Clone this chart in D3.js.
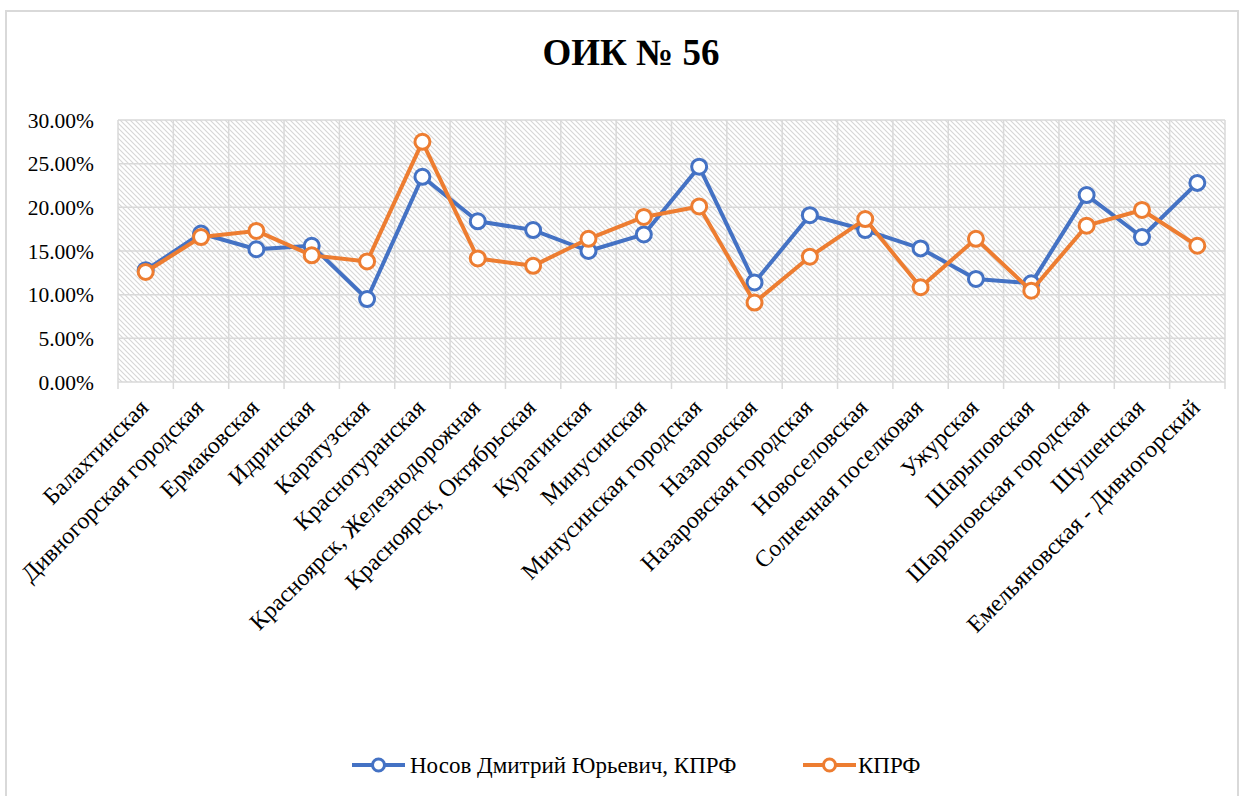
<!DOCTYPE html>
<html><head><meta charset="utf-8">
<script src="https://cdn.jsdelivr.net/npm/d3@7"></script>
<style>body{margin:0;background:#fff}svg{display:block}text{font-family:"Liberation Serif","Times New Roman",serif}</style>
</head><body>
<svg id="c" width="1240" height="796"></svg>
<script>
const categories = ["Балахтинская","Дивногорская городская","Ермаковская","Идринская","Каратузская","Краснотуранская","Красноярск, Железнодорожная","Красноярск, Октябрьская","Курагинская","Минусинская","Минусинская городская","Назаровская","Назаровская городская","Новоселовская","Солнечная поселковая","Ужурская","Шарыповская","Шарыповская городская","Шушенская","Емельяновская - Дивногорский"];
const nosov = [12.8,17.0,15.2,15.6,9.5,23.5,18.4,17.4,15.0,16.9,24.65,11.4,19.1,17.4,15.3,11.8,11.3,21.4,16.6,22.8];
const kprf = [12.6,16.6,17.3,14.5,13.8,27.5,14.15,13.3,16.4,18.9,20.1,9.1,14.35,18.66,10.85,16.4,10.45,17.9,19.7,15.6];
const yTicks = [0,5,10,15,20,25,30];
const seriesNames = ["Носов Дмитрий Юрьевич, КПРФ","КПРФ"];
const colors = ["#4472C4","#ED7D31"];

const svg = d3.select("#c");
svg.append("rect").attr("x",6).attr("y",11).attr("width",1232).attr("height",800).attr("fill","#fff").attr("stroke","#d9d9d9").attr("stroke-width",2);

const defs = svg.append("defs");
const pat = defs.append("pattern").attr("id","hatch").attr("patternUnits","userSpaceOnUse").attr("width",5).attr("height",5);
pat.append("rect").attr("width",5).attr("height",5).attr("fill","#fff");
pat.append("path").attr("d","M-1,-1 L6,6 M-1,4 L1,6 M4,-1 L6,1").attr("stroke","#d6d6d6").attr("stroke-width",1.1);

const L=118,R=1225,T=120,B=382;
const x = d3.scaleBand().domain(categories).range([L,R]);
const y = d3.scaleLinear().domain([0,30]).range([B,T]);

svg.append("rect").attr("x",L).attr("y",T).attr("width",R-L).attr("height",B-T).attr("fill","url(#hatch)");

// grid
svg.append("g").selectAll("line").data(yTicks).join("line")
  .attr("x1",L).attr("x2",R).attr("y1",d=>y(d)).attr("y2",d=>y(d))
  .attr("stroke","#d9d9d9").attr("stroke-width",1.5);
const bounds = categories.map(c=>x(c)).concat([R]);
svg.append("g").selectAll("line").data(bounds).join("line")
  .attr("x1",d=>d).attr("x2",d=>d).attr("y1",T).attr("y2",B+7)
  .attr("stroke","#d9d9d9").attr("stroke-width",1.5);

// y labels
svg.append("g").selectAll("text").data(yTicks).join("text")
  .attr("x",94).attr("y",d=>y(d)).attr("dy","0.35em").attr("text-anchor","end")
  .attr("font-size",21.5).attr("fill","#000")
  .text(d=>d.toFixed(2)+"%");

// x labels
svg.append("g").selectAll("text").data(categories).join("text")
  .attr("transform",d=>`translate(${x(d)+x.bandwidth()/2+4},${B+27}) rotate(-45)`)
  .attr("text-anchor","end").attr("font-size",23.8).attr("fill","#000")
  .text(d=>d);

// title
svg.append("text").attr("x",631).attr("y",65).attr("text-anchor","middle")
  .attr("font-size",37).attr("font-weight","bold").text("ОИК № 56");

const line = d3.line().x((d,i)=>x(categories[i])+x.bandwidth()/2).y(d=>y(d));
[nosov,kprf].forEach((s,k)=>{
  const g = svg.append("g");
  g.append("path").datum(s).attr("d",line).attr("fill","none").attr("stroke",colors[k]).attr("stroke-width",4).attr("stroke-linejoin","round");
  g.selectAll("circle").data(s).join("circle")
    .attr("cx",(d,i)=>x(categories[i])+x.bandwidth()/2).attr("cy",d=>y(d)).attr("r",7.5)
    .attr("fill","#fff").attr("stroke",colors[k]).attr("stroke-width",3);
});

// legend
const leg = [{x:352,tx:410},{x:803,tx:858}];
seriesNames.forEach((n,k)=>{
  const g = svg.append("g");
  g.append("line").attr("x1",leg[k].x).attr("x2",leg[k].x+53).attr("y1",765).attr("y2",765).attr("stroke",colors[k]).attr("stroke-width",4);
  g.append("circle").attr("cx",leg[k].x+26.5).attr("cy",765).attr("r",6).attr("fill","#fff").attr("stroke",colors[k]).attr("stroke-width",3);
  g.append("text").attr("x",leg[k].tx).attr("y",773).attr("font-size",23).text(n);
});
</script>
</body></html>
